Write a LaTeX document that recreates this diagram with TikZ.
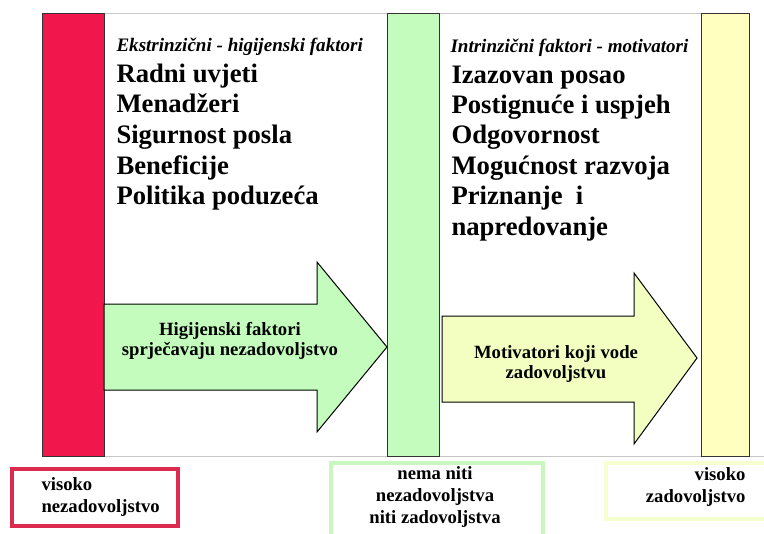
\documentclass[tikz,border=0pt]{standalone}
\usepackage{fontspec}
\setmainfont{Liberation Serif}
\tikzset{every picture/.style={line width=0.75pt}}
\definecolor{barred}{RGB}{241,22,76}
\definecolor{bargreen}{RGB}{195,252,188}
\definecolor{baryellow}{RGB}{255,255,192}
\definecolor{arrowyellow}{RGB}{242,255,192}
\definecolor{boxred}{RGB}{220,42,80}
\definecolor{boxgreen}{RGB}{202,246,192}
\definecolor{boxyellow}{RGB}{246,255,208}
\definecolor{framegray}{RGB}{200,200,200}
\tikzset{
  heading/.style={anchor=base west, inner sep=0.75pt, font=\fontsize{14.3}{17}\selectfont\bfseries\itshape},
  factor/.style={anchor=base west, inner sep=0.75pt, font=\fontsize{20}{23}\selectfont\bfseries},
  arrowtext/.style={inner sep=0.75pt, align=center, font=\fontsize{14}{15.5}\selectfont\bfseries},
  boxtext/.style={inner sep=0.75pt, font=\fontsize{14}{16.5}\selectfont\bfseries}
}

\begin{document}
\begin{tikzpicture}[x=0.75pt,y=0.75pt,yscale=-1,xscale=1]
\useasboundingbox (0,0) rectangle (764,533);
\clip (0,0) rectangle (764,533);

%Straight Lines (frame)
\draw [color=framegray]   (42,13) -- (749,13) ;
\draw [color=framegray]   (42,456) -- (764,456) ;

%Shape: Rectangle (bars)
\draw [color=black!80, fill=barred]    (42,13) rectangle (104,456) ;
\draw [color=black!80, fill=bargreen]  (387,13) rectangle (439,456) ;
\draw [color=black!80, fill=baryellow] (701,13) rectangle (749,456) ;

%Shape: Right Arrow
\draw [fill=bargreen]    (104,304) -- (317,304) -- (317,262) -- (387,347) -- (317,432) -- (317,390) -- (104,390) -- cycle ;
%Shape: Right Arrow
\draw [fill=arrowyellow] (442,316) -- (634,316) -- (634,273) -- (697,358) -- (634,444) -- (634,402) -- (442,402) -- cycle ;

%Shape: Rectangle (level boxes)
\draw [color=boxred, line width=3pt]    (12,469) rectangle (178,526) ;
\draw [color=boxgreen, line width=3pt]  (331,463) rectangle (543,545) ;
\draw [color=boxyellow, line width=3pt] (606,463) rectangle (780,519) ;

% Text Node
\node [heading] (hyghead) at (115,51) {Ekstrinzični - higijenski faktori};
\foreach \t [count=\i] in {Radni uvjeti, Menadžeri, Sigurnost posla, Beneficije, Politika poduzeća}
  \node [factor] (hyg\i) at (115,{82+30.7*(\i-1)}) {\t};

% Text Node
\node [heading] (mothead) at (449,52) {Intrinzični faktori - motivatori};
\foreach \t [count=\i] in {Izazovan posao, Postignuće i uspjeh, Odgovornost, Mogućnost razvoja, Priznanje\ \ i, napredovanje}
  \node [factor] (mot\i) at (450,{83+30.4*(\i-1)}) {\t};

% Text Node
\node [arrowtext] (hygarrow) at (230,341) {Higijenski faktori\\sprječavaju nezadovoljstvo};
\node [arrowtext] (motarrow) at (556,364) {Motivatori koji vode\\zadovoljstvu};

% Text Node
\node [boxtext, anchor=west, align=left]    (lowlevel)  at (40,497)  {visoko\\nezadovoljstvo};
\node [boxtext, align=center]               (midlevel)  at (435,497) {nema niti\\nezadovoljstva\\niti zadovoljstva};
\node [boxtext, anchor=east, align=right]   (highlevel) at (747,487) {visoko\\zadovoljstvo};

\end{tikzpicture}
\end{document}
